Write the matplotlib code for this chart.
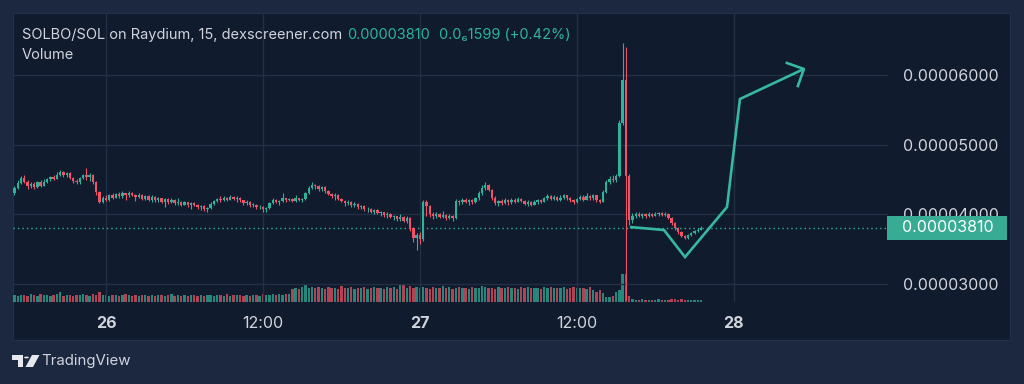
import numpy as np
import matplotlib
matplotlib.use("Agg")
import matplotlib.pyplot as plt
from matplotlib.patches import Rectangle, Polygon, Circle
from matplotlib.transforms import blended_transform_factory

plt.rcParams['font.family'] = ['Inter', 'DejaVu Sans']

# ---------------- data (prices in units of 1e-7 SOL) ----------------
first_open = 430
closes = [438,445,452,447,440,444,439,446,441,447,
          450,453,451,456,460,457,459,452,448,446,
          452,456,453,457,446,432,418,424,421,427,
          424,429,426,430,427,431,428,425,428,422,
          426,421,425,420,423,418,422,417,421,416,
          418,414,417,413,416,414,410,412,407,409,
          415,419,422,420,424,421,425,422,424,420,
          416,418,413,414,410,411,407,409,416,421,
          418,419,423,420,422,419,423,421,422,430,
          438,442,440,437,439,434,429,426,428,422,
          419,416,418,413,415,410,412,407,408,404,
          406,402,403,399,401,396,397,393,396,391,
          394,380,366,371,364,418,412,400,397,401,
          396,399,395,398,394,419,417,421,418,420,
          417,423,430,438,442,435,424,416,419,416,
          420,417,421,418,422,419,415,418,414,417,
          420,418,423,426,422,425,421,424,427,423,
          420,417,422,425,421,426,423,427,420,418,
          432,446,451,449,455,531,593,455,392,398,
          401,398,400,397,401,398,400,402,399,401,
          395,387,380,374,369,366,370,373,376,378,
          381]
highs = [441,449,455,456,449,446,446,448,449,450,
         452,455,456,460,464,462,461,460,454,450,
         454,458,466,459,458,448,434,426,427,429,
         430,431,432,434,431,433,432,429,430,429,
         428,427,427,426,425,424,424,423,423,422,
         424,419,419,418,418,417,415,414,413,411,
         417,421,424,426,426,425,427,426,426,425,
         421,420,419,416,415,414,412,411,418,423,
         422,421,430,424,424,424,427,424,424,432,
         440,446,444,442,441,440,435,431,431,429,
         424,421,420,419,417,416,414,413,410,409,
         408,407,405,404,403,402,399,398,400,397,
         398,396,382,373,374,421,420,414,403,403,
         402,405,400,401,399,422,421,423,423,422,
         422,425,433,442,446,444,437,426,421,422,
         423,422,424,423,425,424,420,420,419,421,
         422,422,425,429,428,427,426,428,429,428,
         425,422,424,428,427,430,428,429,428,422,
         435,449,455,456,458,536,646,640,458,402,
         403,403,402,402,403,402,403,404,403,404,
         402,396,389,382,376,370,372,375,378,380,
         383]
lows = [428,436,443,445,437,438,437,438,439,440,
        445,448,449,450,455,454,453,450,445,443,
        444,450,449,448,444,428,416,416,419,419,
        422,423,424,424,421,425,426,419,423,420,
        421,419,418,417,418,416,410,415,416,414,
        413,412,413,411,407,412,408,406,405,404,
        408,414,417,418,419,419,420,420,418,418,
        414,413,411,410,408,407,404,404,408,415,
        416,414,417,418,419,417,418,419,418,421,
        429,436,437,434,433,431,427,424,421,420,
        417,412,414,411,410,408,407,405,403,402,
        401,400,398,396,395,394,392,391,390,389,
        388,376,360,349,358,362,398,396,393,395,
        394,395,392,393,391,393,414,415,416,414,
        415,416,421,428,435,433,421,413,412,414,
        415,414,415,416,417,417,413,412,412,413,
        415,416,417,421,420,420,419,419,422,421,
        418,415,416,420,419,420,421,421,418,416,
        417,430,444,446,447,453,528,277,385,388,
        395,396,395,395,396,396,397,398,397,398,
        393,385,378,372,367,364,365,369,372,375,
        377]
volumes = [24,22,25,23,21,26,24,22,27,23,
           25,22,24,26,35,21,24,24,22,25,
           23,26,24,22,27,23,35,25,24,22,
           23,25,22,24,26,23,21,24,22,25,
           23,22,24,21,25,23,22,24,26,22,
           23,21,24,22,25,23,22,24,21,23,
           25,22,24,23,21,26,22,24,23,25,
           22,24,21,23,25,22,26,24,23,28,
           25,27,24,29,26,46,50,44,52,60,
           48,51,47,53,49,45,52,48,50,46,
           54,47,49,51,45,50,48,52,46,49,
           53,47,50,45,51,48,52,46,58,62,
           50,55,48,53,47,51,49,46,52,48,
           50,54,47,51,45,49,53,48,50,46,
           52,49,47,55,51,48,50,46,53,49,
           47,52,48,50,45,51,49,53,47,50,
           48,46,52,49,51,47,50,48,53,46,
           49,51,47,50,48,45,52,40,35,42,
           30,18,16,20,35,40,97,97,20,9,
           8,7,9,8,7,6,8,9,7,8,
           7,9,10,8,9,8,7,6,8,7,
           6]
last_price = 381
start_hour = -7.0          # 25th 17:00, relative to the 26th 00:00
interval_hours = 0.25      # 15 minute candles
tick_hours = [0, 12, 24, 36, 48]
tick_labels = ['26', '12:00', '27', '12:00', '28']
tick_bold = [True, False, True, False, True]
price_ticks = [300, 400, 500, 600]
# hand-drawn arrow annotation (hours, price)
arrow_hours = [40.06, 42.66, 44.27, 47.48, 48.47, 53.36]
arrow_prices = [381.8, 377.5, 338.7, 410.5, 565.4, 608.5]
arrow_head_hours = [52.06, 53.36, 52.90]
arrow_head_prices = [617.1, 608.5, 584.1]

# ---------------- style ----------------
OUTER = '#1b2840'
PANEL = '#101b2e'
GRID = '#232f45'
TEXT = '#d1d4dc'
UP = '#2eb39a'
DOWN = '#ef5365'
ARROW = '#36b9a0'
TAG = '#38ab94'

W, H = 1024, 384
fig = plt.figure(figsize=(W / 100, H / 100), dpi=100)
fig.patch.set_facecolor(OUTER)

def fx(px):
    return px / W

def fy(py):
    return 1 - py / H

# inner panel
fig.patches.append(Rectangle((fx(13), fy(340)), fx(1010) - fx(13), fy(13) - fy(340),
                             transform=fig.transFigure, facecolor=PANEL,
                             edgecolor='#22304a', lw=0.8, zorder=-10))

ax = fig.add_axes([fx(13), fy(302), fx(888) - fx(13), fy(13) - fy(302)])
axv = ax.twinx()
axv.set_zorder(1)
ax.set_zorder(2)
ax.patch.set_visible(False)
axv.patch.set_visible(False)

n = len(closes)
t = start_hour + interval_hours * np.arange(n)
c = np.array(closes, float)
o = np.concatenate([[first_open], c[:-1]])
hi = np.array(highs, float)
lo = np.array(lows, float)
up = c >= o
cols = np.where(up, UP, DOWN)

bw = interval_hours * 0.72
# volume
axv.bar(t, volumes, width=bw, color=cols, alpha=0.72, linewidth=0)
axv.set_ylim(0, 1000)
axv.set_yticks([])
for s in axv.spines.values():
    s.set_visible(False)

# candles
ax.vlines(t, lo, hi, colors=cols, linewidth=0.8, zorder=3)
body_bottom = np.minimum(o, c)
body_h = np.maximum(np.abs(c - o), 1.2)
ax.bar(t, body_h, bottom=body_bottom, width=bw, color=cols, linewidth=0, zorder=4)

ax.set_xlim(-7.11, 59.79)
ax.set_ylim(274.2, 688.8)

# grid
ax.set_xticks(tick_hours)
ax.set_yticks(price_ticks)
ax.grid(True, color=GRID, linewidth=1.0, zorder=0)
ax.set_axisbelow(True)
for s in ax.spines.values():
    s.set_visible(False)

ax.set_xticklabels(tick_labels)
for lab, b in zip(ax.get_xticklabels(), tick_bold):
    lab.set_fontweight('bold' if b else 'normal')
ax.tick_params(axis='x', length=0, pad=10, labelsize=11.5, labelcolor=TEXT)

ax.yaxis.tick_right()
ax.set_yticklabels([f"{v * 1e-7:.8f}" for v in price_ticks])
ax.tick_params(axis='y', length=0, pad=11, labelsize=11.5, labelcolor=TEXT)

# last price dotted line
ax.axhline(last_price, color=UP, linestyle=(0, (1, 2.2)), linewidth=1.0, zorder=2)

# arrow drawing
ax.plot(arrow_hours, arrow_prices, color=ARROW, lw=1.9, solid_joinstyle='miter',
        solid_capstyle='butt', zorder=6)
ax.plot(arrow_head_hours, arrow_head_prices, color=ARROW, lw=1.9, zorder=6)

# price tag
tr = blended_transform_factory(ax.transAxes, ax.transData)
ax_w_px = 888 - 13
tag_h = 24 / ((302 - 13) / (688.8 - 274.2))
ax.add_patch(Rectangle((-1 / ax_w_px + 1.0, last_price - tag_h / 2), 120 / ax_w_px, tag_h,
                       transform=tr, facecolor=TAG, edgecolor='none', clip_on=False, zorder=10))
ax.text(1.0 + 60 / ax_w_px, last_price, f"{last_price * 1e-7:.8f}", transform=tr,
        ha='center', va='center', color='white', fontsize=11.5, zorder=11, clip_on=False)

# header
fig.text(fx(22), fy(35), 'SOLBO/SOL on Raydium, 15, dexscreener.com', color=TEXT,
         fontsize=10.5, va='center', ha='left')
fig.text(fx(347), fy(35), '0.00003810', color=UP, fontsize=10.5, va='center', ha='left')
fig.text(fx(439), fy(35), '0.0\u20861599 (+0.42%)', color=UP, fontsize=10.5, va='center', ha='left')
fig.text(fx(22), fy(55), 'Volume', color=TEXT, fontsize=10.5, va='center', ha='left')

# TradingView logo + text
def pp(pts):
    return [(fx(x), fy(y)) for x, y in pts]

logo_col = '#e6e8ee'
fig.patches.append(Polygon(pp([(12, 355), (23, 355), (23, 367), (17.5, 367), (17.5, 360), (12, 360)]),
                           closed=True, transform=fig.transFigure, facecolor=logo_col, edgecolor='none'))
fig.patches.append(Circle((fx(26.5), fy(357.5)), fx(2.4), transform=fig.transFigure,
                          facecolor=logo_col, edgecolor='none'))
fig.patches.append(Polygon(pp([(32, 355), (39.5, 355), (33, 367), (25.5, 367)]),
                           closed=True, transform=fig.transFigure, facecolor=logo_col, edgecolor='none'))
fig.text(fx(41.5), fy(361.5), 'TradingView', color=TEXT, fontsize=10.8, va='center', ha='left')

fig.savefig('out.png', dpi=100, facecolor=OUTER)
